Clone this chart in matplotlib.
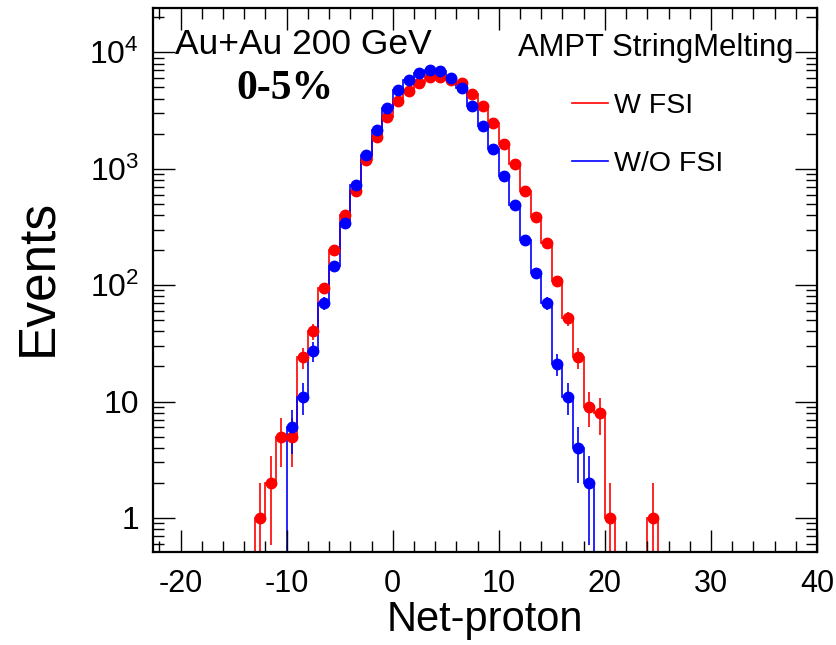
import numpy as np
import matplotlib
matplotlib.use("Agg")
import matplotlib.pyplot as plt
from matplotlib.ticker import MultipleLocator, FixedLocator, FixedFormatter, LogLocator, NullFormatter
from matplotlib.lines import Line2D

plt.rcParams["font.family"] = ["Liberation Sans", "DejaVu Sans"]
plt.rcParams["mathtext.fontset"] = "custom"
plt.rcParams["mathtext.rm"] = "Liberation Sans"
plt.rcParams["axes.unicode_minus"] = False

# net-proton distributions, unit-width bins; first_* is the left edge of the first bin
red_first = -13
red_counts = [1, 2, 5, 5, 24, 40, 95, 200, 400, 645, 1180, 1864, 2768, 3795, 4690,
              5455, 6100, 6160, 5830, 5400, 4360, 3440, 2473, 1634, 1100, 641, 384,
              228, 109, 52, 24, 9, 8, 1, 0, 0, 0, 1]
blue_first = -10
blue_counts = [6, 11, 27, 70, 146, 343, 725, 1300, 2170, 3325, 4720, 5750, 6640, 7040,
               6870, 5980, 4900, 3460, 2316, 1490, 862, 486, 243, 126, 70, 21, 11, 4, 2]

labels = ["W FSI", "W/O FSI"]
ytick_vals = [1, 10, 100, 1000, 10000]
ytick_labels = ["1", "10", r"$\mathregular{10^{2}}$", r"$\mathregular{10^{3}}$", r"$\mathregular{10^{4}}$"]

edges = np.arange(-23, 41)
ymin, ymax = 0.51, 2.4e4

fig = plt.figure(figsize=(8.36, 6.45), dpi=100)
ax = fig.add_axes([153 / 836, 93 / 645, 664 / 836, 544 / 645])
ax.set_yscale("log")


def draw(first, counts, color):
    counts = np.array(counts, dtype=float)
    full = np.zeros(len(edges) - 1)
    i0 = first - edges[0]
    full[i0:i0 + len(counts)] = counts
    ax.stairs(np.clip(full, ymin, None), edges, color=color, lw=1.2, baseline=None)
    centers = first + 0.5 + np.arange(len(counts))
    m = counts > 0
    err = np.sqrt(counts[m])
    lo = np.minimum(err, counts[m] - ymin)
    ax.errorbar(centers[m], counts[m], yerr=[lo, err], fmt="o", color=color,
                ms=7.5, elinewidth=1.2, capsize=0)


draw(red_first, red_counts, "#ff0000")
draw(blue_first, blue_counts, "#0000ff")

ax.set_xlim(-22.6, 40)
ax.set_ylim(ymin, ymax)

ax.xaxis.set_major_locator(MultipleLocator(10))
ax.xaxis.set_minor_locator(MultipleLocator(2))
ax.yaxis.set_major_locator(FixedLocator(ytick_vals))
ax.yaxis.set_major_formatter(FixedFormatter(ytick_labels))
ax.yaxis.set_minor_locator(LogLocator(base=10, subs=np.arange(2, 10)))
ax.yaxis.set_minor_formatter(NullFormatter())

ax.tick_params(which="both", direction="in", top=True, right=True, width=1.0, labelsize=22)
ax.tick_params(axis="y", labelsize=23)
ax.tick_params(which="major", length=16)
ax.tick_params(which="minor", length=8)
ax.tick_params(axis="x", pad=12)
ax.tick_params(axis="y", pad=10)
for s in ax.spines.values():
    s.set_linewidth(1.6)

fig.text(485 / 836, 1 - 631 / 645, "Net-proton", ha="center", va="baseline", fontsize=30)
fig.text(38 / 836, 1 - 277 / 645, "Events", ha="center", va="center", rotation=90, fontsize=37)

fig.text(175 / 836, 1 - 45 / 645, "Au+Au 200 GeV", ha="left", va="center", fontsize=25.5)
fig.text(236 / 836, 1 - 89 / 645, "0-5%", ha="left", va="center", fontsize=30,
         family="Liberation Serif", weight="bold")
fig.text(518 / 836, 1 - 48 / 645, "AMPT StringMelting", ha="left", va="center", fontsize=22.3)

handles = [Line2D([], [], color="#ff0000", lw=1.2), Line2D([], [], color="#0000ff", lw=1.2)]
ax.legend(handles, labels, loc="upper left", bbox_to_anchor=(572 / 836, 1 - 93 / 645),
          bbox_transform=fig.transFigure, frameon=False, fontsize=20.5, borderpad=0,
          borderaxespad=0, handlelength=1.26, handletextpad=0.2, labelspacing=1.13)

fig.savefig("out.png", dpi=100)
